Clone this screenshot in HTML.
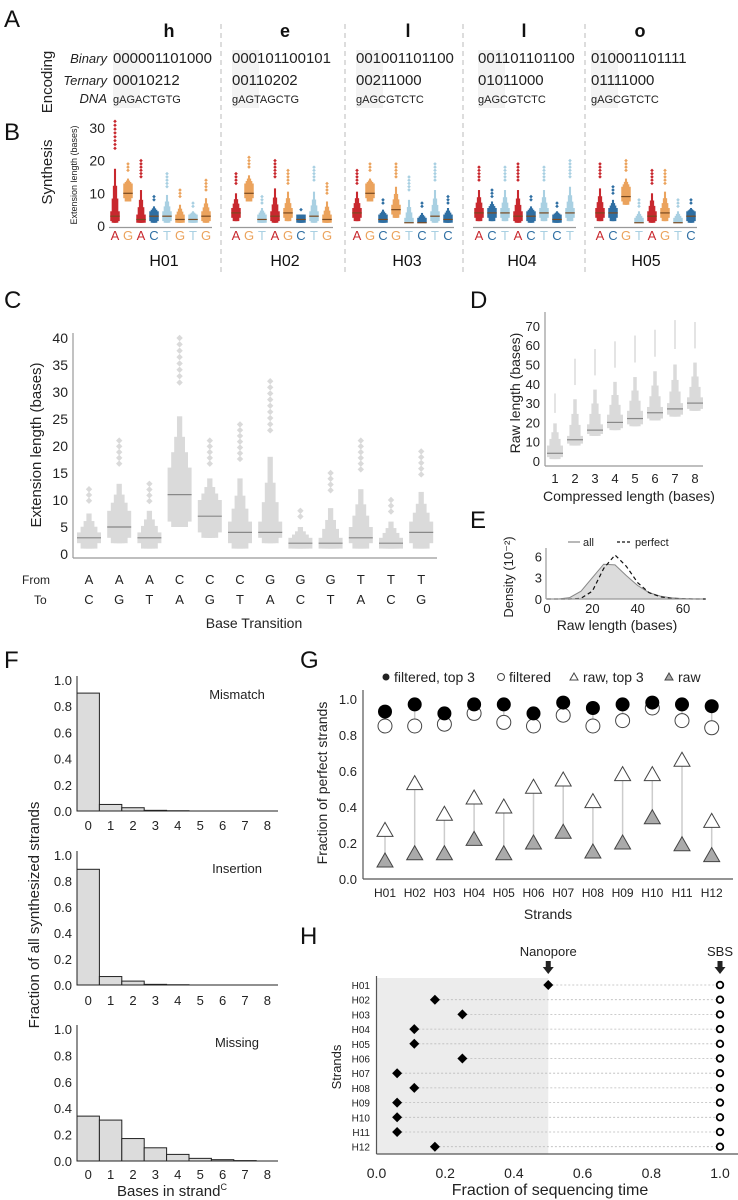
<!DOCTYPE html>
<html><head><meta charset="utf-8">
<style>
html,body{margin:0;padding:0;background:#fff;}
svg{display:block;font-family:"Liberation Sans",sans-serif;}
</style></head>
<body>
<svg id="fig" width="738" height="1200" viewBox="0 0 738 1200" xmlns="http://www.w3.org/2000/svg">
<g font-size="24" fill="#111">
<text x="4" y="27">A</text>
<text x="4" y="140">B</text>
<text x="4" y="308">C</text>
<text x="470" y="308">D</text>
<text x="470" y="528">E</text>
<text x="4" y="668">F</text>
<text x="300" y="668">G</text>
<text x="300" y="944">H</text>
</g>
<g id="pa"></g>
<g id="pb"></g>
<g id="pc"></g>
<g id="pd"></g>
<g id="pe"></g>
<g id="pf"></g>
<g id="pg"></g>
<g id="ph"></g>
</svg>
<script>
// ---------- data ----------
const letters=["h","e","l","l","o"];
const binaryCodes=["000001101000","000101100101","001001101100","001101101100","010001101111"];
const ternaryCodes=["00010212","00110202","00211000","01011000","01111000"];
const dnaCodes=["gAGACTGTG","gAGTAGCTG","gAGCGTCTC","gAGCGTCTC","gAGCGTCTC"];
const strandNamesB=["H01","H02","H03","H04","H05"];
const basesB=["AGACTGTG","AGTAGCTG","AGCGTCTC","ACTACTCT","ACGTAGTC"];
const medB=[[3,10,2,3,3,2,2,3],[4,10,2,3,4,2,3,2],[4,10,2,5,1,1,3,2],[4,4,4,3,3,4,2,4],[4,4,9,1,3,4,1,3]];
const maxB=[[32,19,20,9,16,11,7,14],[16,21,9,20,17,5,18,13],[17,19,8,19,15,7,19,9],[18,11,18,19,9,18,7,20],[19,12,20,8,17,17,8,8]];
const bTicks=[0,10,20,30];

const fromC=["A","A","A","C","C","C","G","G","G","T","T","T"];
const toC=["C","G","T","A","G","T","A","C","T","A","C","G"];
const medC=[3,5,3,11,7,4,4,2,2,3,2,4];
const q1C=[2,3,2,6,4,2,3,1,1,2,1,2];
const q3C=[4,8,4,16,10,6,6,3,3,5,3,6];
const maxC=[12,21,13,40,21,24,32,8,15,21,10,19];
const cTicks=[0,5,10,15,20,25,30,35,40];

const catD=[1,2,3,4,5,6,7,8];
const medD=[4,11,16,20,22,25,27,30];
const q1D=[2,9,14,17,19,22,24,27];
const q3D=[8,13,19,24,26,28,30,33];
const maxD=[35,53,58,62,65,68,73,72];
const dTicks=[0,10,20,30,40,50,60,70];

const xE=[0,5,10,15,20,25,30,35,40,45,50,55,60,65,70];
const allE=[0,0,0.2,1.1,3.0,4.9,4.8,3.3,1.9,0.9,0.4,0.15,0.05,0.02,0];
const perfectE=[0,0,0,0.1,1.1,4.3,6.2,4.6,2.3,0.9,0.3,0.1,0.03,0,0];
const eXTicks=[0,20,40,60];
const eYTicks=[0,3,6];

const binsF=[0,1,2,3,4,5,6,7,8];
const mismatchF=[0.90,0.05,0.025,0.005,0.002,0,0,0,0];
const insertionF=[0.89,0.065,0.03,0.005,0.002,0,0,0,0];
const missingF=[0.34,0.31,0.17,0.10,0.05,0.02,0.01,0.003,0];
const fTicks=[0,0.2,0.4,0.6,0.8,1.0];

const strands=["H01","H02","H03","H04","H05","H06","H07","H08","H09","H10","H11","H12"];
const filteredTop3=[0.93,0.97,0.92,0.97,0.97,0.92,0.98,0.95,0.97,0.98,0.97,0.96];
const filteredG=[0.85,0.85,0.86,0.92,0.87,0.85,0.91,0.85,0.88,0.95,0.88,0.84];
const rawTop3=[0.27,0.53,0.36,0.45,0.40,0.51,0.55,0.43,0.58,0.58,0.66,0.32];
const rawG=[0.10,0.14,0.14,0.22,0.14,0.20,0.26,0.15,0.20,0.34,0.19,0.13];
const gTicks=[0,0.2,0.4,0.6,0.8,1.0];

const nanoporeH=[0.5,0.17,0.25,0.11,0.11,0.25,0.06,0.11,0.06,0.06,0.06,0.17];
const sbsH=[1,1,1,1,1,1,1,1,1,1,1,1];
const hTicks=[0,0.2,0.4,0.6,0.8,1.0];

// ---------- helpers ----------
const NS="http://www.w3.org/2000/svg";
function mk(parent,tag,attrs,text){const e=document.createElementNS(NS,tag);for(const k in attrs)e.setAttribute(k,attrs[k]);if(text!==undefined)e.textContent=text;parent.appendChild(e);return e;}
const baseColor={A:"#c8282e",G:"#eba35d",C:"#2f6fa3",T:"#a9d0e2"};

function boxen(g,cx,w,med,q1,q3,mx,ys,color,medColor,outStyle,name){
  const top=med+(mx-med)*0.5;
  const lo=Math.max(1,q1-1);
  const lv=[[w,q1,q3],[w*0.7,Math.max(1,q1-0.5*(q1-lo)*2),q3+(top-q3)*0.3],[w*0.45,lo,q3+(top-q3)*0.6],[w*0.22,lo,top]];
  const grp=mk(g,"g",{});
  
  
  for(let i=lv.length-1;i>=0;i--){const[ww,a,b]=lv[i];mk(grp,"rect",{x:cx-ww/2,y:ys(b),width:ww,height:Math.max(0.5,ys(a)-ys(b)),fill:color});}
  mk(grp,"line",{x1:cx-w/2,x2:cx+w/2,y1:ys(med),y2:ys(med),stroke:medColor,"stroke-width":1.2});
  const ostart=top+(mx-top)*0.35;
  if(outStyle==="line"){mk(grp,"line",{x1:cx,x2:cx,y1:ys(ostart),y2:ys(mx),stroke:color,"stroke-width":1.5});}
  else{const r=outStyle;const step=Math.max(r*2/Math.abs(ys(0)-ys(1))*0.9,(mx-ostart)/8);for(let v=mx;v>=ostart;v-=step){const y=ys(v);mk(grp,"path",{d:`M${cx} ${y-r}L${cx+r} ${y}L${cx} ${y+r}L${cx-r} ${y}Z`,fill:color});}}
}

// ---------- Panel A ----------
(function(){
  const g=document.getElementById("pa");
  const dashX=[221,345,463,585];
  dashX.forEach(x=>{const l=mk(g,"line",{x1:x,x2:x,y1:24,y2:272,stroke:"#bbb","stroke-dasharray":"5,4"});});
  const startX=[113,232,356,478,591];
  const letterX=[169,285,408,524,640];
  const t=mk(g,"text",{x:0,y:0,transform:"translate(52,82) rotate(-90)","text-anchor":"middle","font-size":15,fill:"#222"},"Encoding");
  
  [["Binary",63],["Ternary",85],["DNA",103]].forEach(([s,y])=>{const e=mk(g,"text",{x:107,y:y,"text-anchor":"end","font-size":13,"font-style":"italic",fill:"#222"},s);});
  letters.forEach((L,i)=>{
    mk(g,"rect",{x:startX[i],y:50,width:27,height:58,fill:"#f3f3f3"});
    const a=mk(g,"text",{x:letterX[i],y:37,"text-anchor":"middle","font-size":18,"font-weight":"bold",fill:"#111"},L);
    
    const b=mk(g,"text",{x:startX[i],y:63,"font-size":15,fill:"#222"},binaryCodes[i]);
    
    const c=mk(g,"text",{x:startX[i],y:85,"font-size":15,fill:"#222"},ternaryCodes[i]);
    
    const d=mk(g,"text",{x:startX[i],y:103,"font-size":11,fill:"#222"},dnaCodes[i]);
    
  });
})();

// ---------- Panel B ----------
(function(){
  const g=document.getElementById("pb");
  const ys=v=>226-v*3.27;
  const s=mk(g,"text",{transform:"translate(52,172) rotate(-90)","text-anchor":"middle","font-size":15,fill:"#222"},"Synthesis");
  
  const y=mk(g,"text",{transform:"translate(77,175) rotate(-90)","text-anchor":"middle","font-size":9,fill:"#222"},"Extension length (bases)");
  
  bTicks.forEach(v=>{const e=mk(g,"text",{x:105,y:ys(v)+5,"text-anchor":"end","font-size":14,fill:"#222"},v);});
  const gx=[109,230,351,473,594];
  const hx=[164,285,407,522,646];
  strandNamesB.forEach((n,i)=>{
    mk(g,"line",{x1:gx[i],x2:gx[i]+103,y1:227.5,y2:227.5,stroke:"#999","stroke-width":1.2});
    for(let j=0;j<8;j++){
      const cx=gx[i]+6+j*13;
      const b=basesB[i][j];
      const col=baseColor[b];
      boxen(g,cx,9.5,medB[i][j],Math.max(1,medB[i][j]-1.5),medB[i][j]+ (medB[i][j]>6?3:1.5),maxB[i][j],ys,col,"#7a4a20",1.8,'boxen-'+n+'-'+j);
      const t=mk(g,"text",{x:cx,y:240,"text-anchor":"middle","font-size":13,fill:col},b);
      
    }
    const h=mk(g,"text",{x:hx[i],y:266,"text-anchor":"middle","font-size":16,fill:"#111"},n);
    
  });
})();

// ---------- Panel C ----------
(function(){
  const g=document.getElementById("pc");
  const ys=v=>554-v*5.4;
  const xs=i=>89+i*30.2;
  mk(g,"line",{x1:73,x2:73,y1:333,y2:558,stroke:"#999","stroke-width":1.2});
  mk(g,"line",{x1:73,x2:437,y1:558,y2:558,stroke:"#999","stroke-width":1.2});
  cTicks.forEach(v=>{const e=mk(g,"text",{x:68,y:ys(v)+5,"text-anchor":"end","font-size":14,fill:"#222"},v);});
  const yt=mk(g,"text",{transform:"translate(41,445) rotate(-90)","text-anchor":"middle","font-size":15,fill:"#222"},"Extension length (bases)");
  
  fromC.forEach((f,i)=>{
    boxen(g,xs(i),24,medC[i],q1C[i],q3C[i],maxC[i],ys,"#dadada","#888",3.2,'boxen-'+f+toC[i]);
    const a=mk(g,"text",{x:xs(i),y:584,"text-anchor":"middle","font-size":13,fill:"#222"},f);
    const b=mk(g,"text",{x:xs(i),y:604,"text-anchor":"middle","font-size":13,fill:"#222"},toC[i]);
  });
  const fr=mk(g,"text",{x:22,y:584,"font-size":12,fill:"#222"},"From");
  const to=mk(g,"text",{x:34,y:604,"font-size":12,fill:"#222"},"To");
  const xt=mk(g,"text",{x:254,y:628,"text-anchor":"middle","font-size":14,fill:"#222"},"Base Transition");
})();

// ---------- Panel D ----------
(function(){
  const g=document.getElementById("pd");
  const ys=v=>461-v*1.93;
  const xs=c=>555+(c-1)*20;
  mk(g,"line",{x1:545,x2:545,y1:312,y2:466,stroke:"#999","stroke-width":1.2});
  mk(g,"line",{x1:545,x2:703,y1:466,y2:466,stroke:"#999","stroke-width":1.2});
  dTicks.forEach(v=>{const e=mk(g,"text",{x:540,y:ys(v)+5,"text-anchor":"end","font-size":13,fill:"#222"},v);});
  catD.forEach((c,i)=>{
    boxen(g,xs(c),16,medD[i],q1D[i],q3D[i],maxD[i],ys,"#dadada","#888","line",'boxen-compressed-'+c);
    const t=mk(g,"text",{x:xs(c),y:483,"text-anchor":"middle","font-size":13,fill:"#222"},c);
  });
  const xt=mk(g,"text",{x:629,y:501,"text-anchor":"middle","font-size":14,fill:"#222"},"Compressed length (bases)");
  const yt=mk(g,"text",{transform:"translate(520,393) rotate(-90)","text-anchor":"middle","font-size":14,fill:"#222"},"Raw length (bases)");
})();

// ---------- Panel E ----------
(function(){
  const g=document.getElementById("pe");
  const xs=v=>547+v*2.267;
  const ys=v=>599-v*7.1;
  let d="M"+xs(xE[0])+" "+ys(0);
  xE.forEach((x,i)=>{d+=" L"+xs(x)+" "+ys(allE[i]);});
  d+=" L"+xs(xE[xE.length-1])+" "+ys(0)+"Z";
  const a=mk(g,"path",{d:d,fill:"#dcdcdc",stroke:"#888","stroke-width":1});
  let p="";xE.forEach((x,i)=>{p+=(i?" L":"M")+xs(x)+" "+ys(perfectE[i]);});
  const pp=mk(g,"path",{d:p,fill:"none",stroke:"#111","stroke-width":1.2,"stroke-dasharray":"4,3"});
  mk(g,"line",{x1:546,x2:546,y1:548,y2:599,stroke:"#999","stroke-width":1.2});
  mk(g,"line",{x1:546,x2:703,y1:599,y2:599,stroke:"#999","stroke-width":1.2});
  eYTicks.forEach(v=>{const e=mk(g,"text",{x:542,y:ys(v)+5,"text-anchor":"end","font-size":13,fill:"#222"},v);});
  eXTicks.forEach(v=>{const e=mk(g,"text",{x:xs(v),y:613,"text-anchor":"middle","font-size":13,fill:"#222"},v);});
  mk(g,"line",{x1:568,x2:580,y1:542,y2:542,stroke:"#888","stroke-width":1.2});
  const l1=mk(g,"text",{x:583,y:546,"font-size":11,fill:"#222"},"all");
  mk(g,"line",{x1:617,x2:632,y1:542,y2:542,stroke:"#111","stroke-width":1.2,"stroke-dasharray":"3,2"});
  const l2=mk(g,"text",{x:635,y:546,"font-size":11,fill:"#222"},"perfect");
  const xt=mk(g,"text",{x:617,y:630,"text-anchor":"middle","font-size":14,fill:"#222"},"Raw length (bases)");
  const yt=mk(g,"text",{transform:"translate(513,577) rotate(-90)","text-anchor":"middle","font-size":13,fill:"#222"},"Density (10\u207B\u00B2)");
})();

// ---------- Panel F ----------
(function(){
  const g=document.getElementById("pf");
  const subs=[["Mismatch",mismatchF,680,811,825,694],["Insertion",insertionF,855,985,1000,868],["Missing",missingF,1029,1161,1174,1042]];
  const xs=b=>77+b*22.4;
  subs.forEach(([name,vals,y1,y0,ty,ly])=>{
    const ys=v=>y0-(v)*(y0-y1);
    vals.forEach((v,i)=>{const r=mk(g,"rect",{x:xs(binsF[i]),y:ys(v),width:22.4,height:y0-ys(v),fill:"#dcdcdc",stroke:"#222","stroke-width":1});});
    mk(g,"line",{x1:77,x2:77,y1:y1-4,y2:y0,stroke:"#222","stroke-width":1});
    mk(g,"line",{x1:77,x2:278,y1:y0,y2:y0,stroke:"#222","stroke-width":1});
    fTicks.forEach(v=>{const e=mk(g,"text",{x:72,y:ys(v)+5,"text-anchor":"end","font-size":13,fill:"#222"},v.toFixed(1));});
    binsF.forEach(b=>{const e=mk(g,"text",{x:xs(b)+11.2,y:ty+5,"text-anchor":"middle","font-size":13,fill:"#222"},b);});
    const t=mk(g,"text",{x:237,y:ly+5,"text-anchor":"middle","font-size":13,fill:"#222"},name);
  });
  const yt=mk(g,"text",{transform:"translate(39,915) rotate(-90)","text-anchor":"middle","font-size":15,fill:"#222"},"Fraction of all synthesized strands");
  const xt=mk(g,"text",{x:172,y:1196,"text-anchor":"middle","font-size":15,fill:"#222"});
  xt.textContent="Bases in strand";mk(xt,"tspan",{"font-size":9,dy:-6},"C");
})();

// ---------- Panel G ----------
(function(){
  const g=document.getElementById("pg");
  const ys=v=>879-v*180;
  const xs=i=>385+i*29.7;
  mk(g,"line",{x1:363,x2:363,y1:690,y2:879,stroke:"#555","stroke-width":1.2});
  mk(g,"line",{x1:363,x2:733,y1:879,y2:879,stroke:"#555","stroke-width":1.2});
  gTicks.forEach(v=>{const e=mk(g,"text",{x:357,y:ys(v)+5,"text-anchor":"end","font-size":13,fill:"#222"},v.toFixed(1));});
  strands.forEach((s,i)=>{
    const x=xs(i);
    mk(g,"line",{x1:x,x2:x,y1:ys(rawTop3[i]),y2:ys(rawG[i]),stroke:"#ccc","stroke-width":1.5});
    mk(g,"line",{x1:x,x2:x,y1:ys(filteredTop3[i]),y2:ys(filteredG[i]),stroke:"#ccc","stroke-width":1.5});
    const c2=mk(g,"circle",{cx:x,cy:ys(filteredG[i]),r:7,fill:"#fff",stroke:"#444","stroke-width":1});
    const c1=mk(g,"circle",{cx:x,cy:ys(filteredTop3[i]),r:7,fill:"#000"});
    const tri=(y,f,n)=>{const t=mk(g,"path",{d:`M${x} ${y-8}L${x+8} ${y+6}L${x-8} ${y+6}Z`,fill:f,stroke:"#444","stroke-width":1});};
    tri(ys(rawTop3[i]),"#fff",'point-raw-top3-'+s);
    tri(ys(rawG[i]),"#aaa",'point-raw-'+s);
    const t=mk(g,"text",{x:x,y:897,"text-anchor":"middle","font-size":12,fill:"#222"},s);
  });
  const xt=mk(g,"text",{x:548,y:919,"text-anchor":"middle","font-size":14,fill:"#222"},"Strands");
  const yt=mk(g,"text",{transform:"translate(327,783) rotate(-90)","text-anchor":"middle","font-size":14,fill:"#222"},"Fraction of perfect strands");
  const lg=mk(g,"g",{"font-size":14,fill:"#222"});
  mk(lg,"circle",{cx:386,cy:677,r:3.5,fill:"#222"});mk(lg,"text",{x:394,y:682},"filtered, top 3");
  mk(lg,"circle",{cx:501,cy:677,r:3.5,fill:"#fff",stroke:"#444"});mk(lg,"text",{x:509,y:682},"filtered");
  mk(lg,"path",{d:"M574 673L578 680L570 680Z",fill:"#fff",stroke:"#444"});mk(lg,"text",{x:583,y:682},"raw, top 3");
  mk(lg,"path",{d:"M669 673L673 680L665 680Z",fill:"#aaa",stroke:"#444"});mk(lg,"text",{x:678,y:682},"raw");
})();

// ---------- Panel H ----------
(function(){
  const g=document.getElementById("ph");
  const xs=v=>376.5+v*343.5;
  const ys=i=>985+i*14.7;
  const sh=mk(g,"rect",{x:377,y:978,width:xs(0.5)-377,height:176,fill:"#ececec"});
  mk(g,"line",{x1:376.5,x2:376.5,y1:976,y2:1154,stroke:"#555","stroke-width":1.2});
  mk(g,"line",{x1:376.5,x2:738,y1:1154,y2:1154,stroke:"#555","stroke-width":1.2});
  strands.forEach((s,i)=>{
    const y=ys(i);
    mk(g,"line",{x1:xs(nanoporeH[i]),x2:xs(sbsH[i]),y1:y,y2:y,stroke:"#bbb","stroke-width":0.8,"stroke-dasharray":"2,2"});
    const x=xs(nanoporeH[i]);
    const d=mk(g,"path",{d:`M${x} ${y-5}L${x+5} ${y}L${x} ${y+5}L${x-5} ${y}Z`,fill:"#000"});
    const c=mk(g,"circle",{cx:xs(sbsH[i]),cy:y,r:3.3,fill:"#fff",stroke:"#000","stroke-width":1.8});
    const t=mk(g,"text",{x:370,y:y+4,"text-anchor":"end","font-size":10,fill:"#222"},s);
  });
  hTicks.forEach(v=>{const e=mk(g,"text",{x:xs(v),y:1178,"text-anchor":"middle","font-size":14,fill:"#222"},v.toFixed(1));});
  const xt=mk(g,"text",{x:550,y:1195,"text-anchor":"middle","font-size":16,fill:"#222"},"Fraction of sequencing time");
  const yt=mk(g,"text",{transform:"translate(341,1067) rotate(-90)","text-anchor":"middle","font-size":13,fill:"#222"},"Strands");
  [["Nanopore",xs(0.5)],["SBS",xs(1)]].forEach(([n,x])=>{
    const t=mk(g,"text",{x:x,y:956,"text-anchor":"middle","font-size":13,fill:"#222"},n);
    const a=mk(g,"path",{d:`M${x-2.5} 961L${x+2.5} 961L${x+2.5} 967L${x+5.5} 967L${x} 974L${x-5.5} 967L${x-2.5} 967Z`,fill:"#222"});
  });
})();
</script>
</body></html>
